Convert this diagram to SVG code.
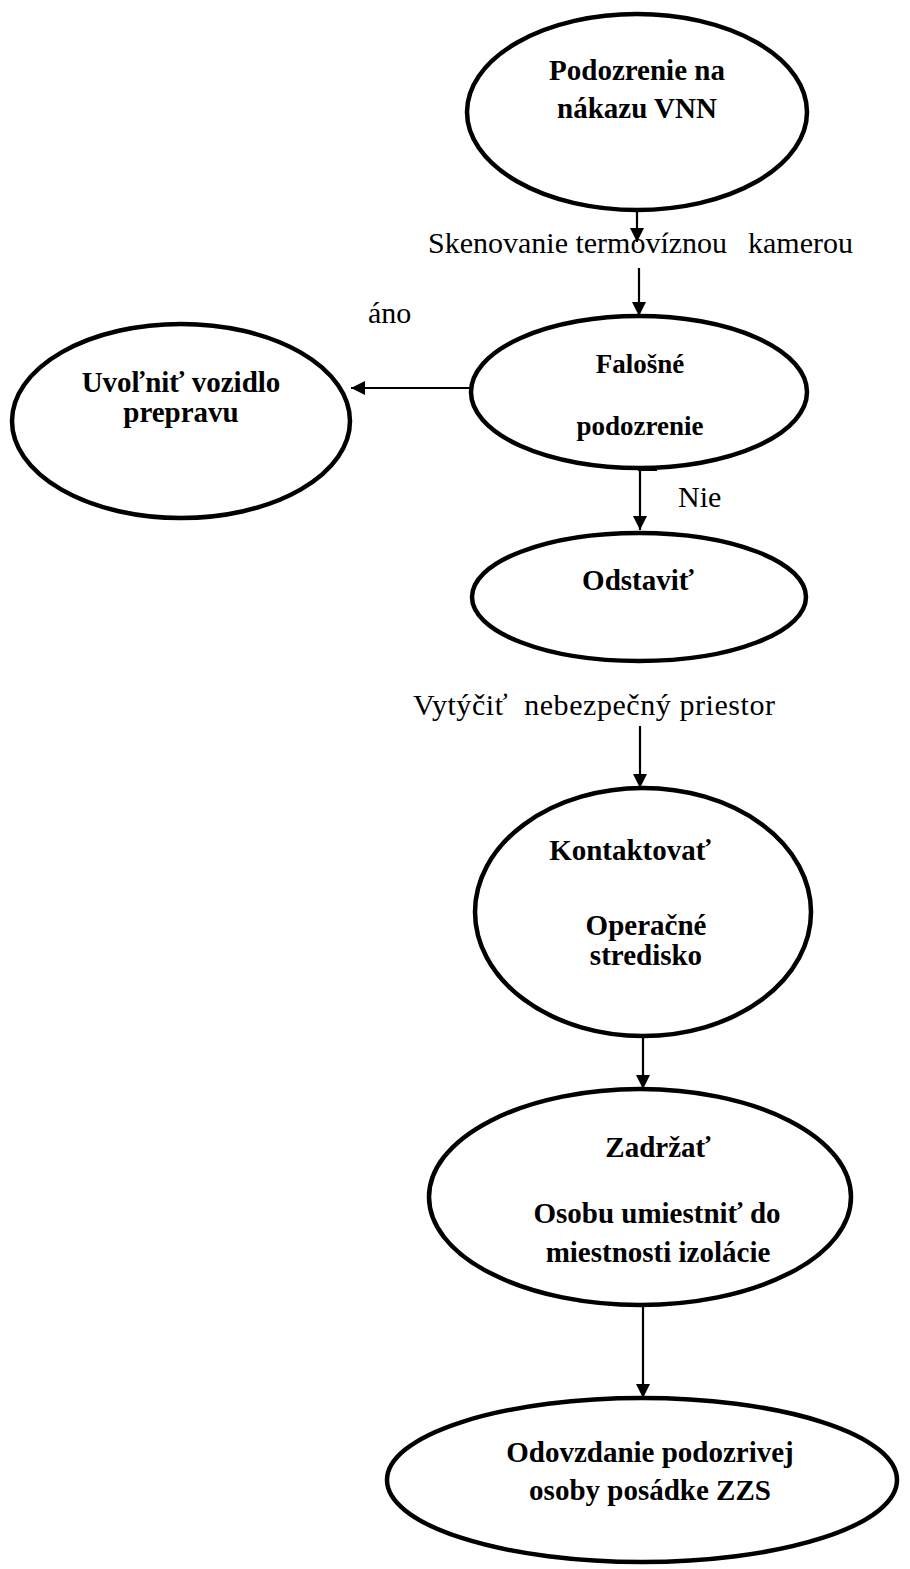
<svg xmlns="http://www.w3.org/2000/svg" width="910" height="1569" viewBox="0 0 910 1569">
<style>
.node{fill:#fff;stroke:#000;stroke-width:4.5}
.t{font-family:"Liberation Serif","Times New Roman",serif;font-weight:bold;font-size:29px;fill:#000;text-anchor:middle}
.lbl{font-family:"Liberation Serif","Times New Roman",serif;font-size:30px;fill:#000}
.edge{stroke:#000;stroke-width:2.2;fill:none;marker-end:url(#ah)}
</style>
<defs>
<marker id="ah" markerUnits="userSpaceOnUse" markerWidth="16" markerHeight="16" refX="14" refY="7" orient="auto">
<path d="M0,0 L14,7 L0,14 z" fill="#000"/>
</marker>
</defs>
<rect width="910" height="1569" fill="#fff"/>
<g id="connectors">
<line class="edge" x1="637" y1="210" x2="637" y2="242"/>
<line class="edge" x1="639" y1="268" x2="639" y2="316"/>
<line class="edge" x1="471" y1="388" x2="351" y2="388"/>
<line class="edge" x1="640" y1="458" x2="640" y2="530"/>
<line x1="638" y1="469" x2="657" y2="469" stroke="#000" stroke-width="4"/>
<line class="edge" x1="640" y1="726" x2="640" y2="788"/>
<line class="edge" x1="643" y1="1037" x2="643" y2="1089"/>
<line class="edge" x1="643" y1="1305" x2="643" y2="1398"/>
<text class="lbl" x="428" y="253">Skenovanie termovíznou</text>
<text class="lbl" x="748" y="253">kamerou</text>
<text class="lbl" x="368" y="323">áno</text>
<text class="lbl" x="678" y="507">Nie</text>
<text class="lbl" x="413" y="715" xml:space="preserve" textLength="362">Vytýčiť  nebezpečný priestor</text>
</g>
<g id="n1">
<ellipse class="node" cx="637" cy="112" rx="170" ry="98"/>
<text class="t" x="637" y="80">Podozrenie na</text>
<text class="t" x="637" y="118">nákazu VNN</text>
</g>
<g id="n2">
<ellipse class="node" cx="639" cy="392" rx="168" ry="76"/>
<text class="t" x="640" y="373" style="font-size:27px">Falošné</text>
<text class="t" x="640" y="435" style="font-size:27px">podozrenie</text>
</g>
<g id="n3">
<ellipse class="node" cx="181" cy="421" rx="169" ry="97"/>
<text class="t" x="181" y="392">Uvoľniť vozidlo</text>
<text class="t" x="181" y="422">prepravu</text>
</g>
<g id="n4">
<ellipse class="node" cx="639" cy="597" rx="167" ry="64"/>
<text class="t" x="638" y="590">Odstaviť</text>
</g>
<g id="n5">
<ellipse class="node" cx="643" cy="912" rx="168" ry="124"/>
<text class="t" x="630" y="860">Kontaktovať</text>
<text class="t" x="646" y="935">Operačné</text>
<text class="t" x="646" y="965">stredisko</text>
</g>
<g id="n6">
<ellipse class="node" cx="640" cy="1197" rx="211" ry="108"/>
<text class="t" x="658" y="1157">Zadržať</text>
<text class="t" x="657" y="1223">Osobu umiestniť do</text>
<text class="t" x="658" y="1262">miestnosti izolácie</text>
</g>
<g id="n7">
<ellipse class="node" cx="642" cy="1480" rx="255" ry="82"/>
<text class="t" x="650" y="1462">Odovzdanie podozrivej</text>
<text class="t" x="650" y="1500">osoby posádke ZZS</text>
</g>
</svg>
